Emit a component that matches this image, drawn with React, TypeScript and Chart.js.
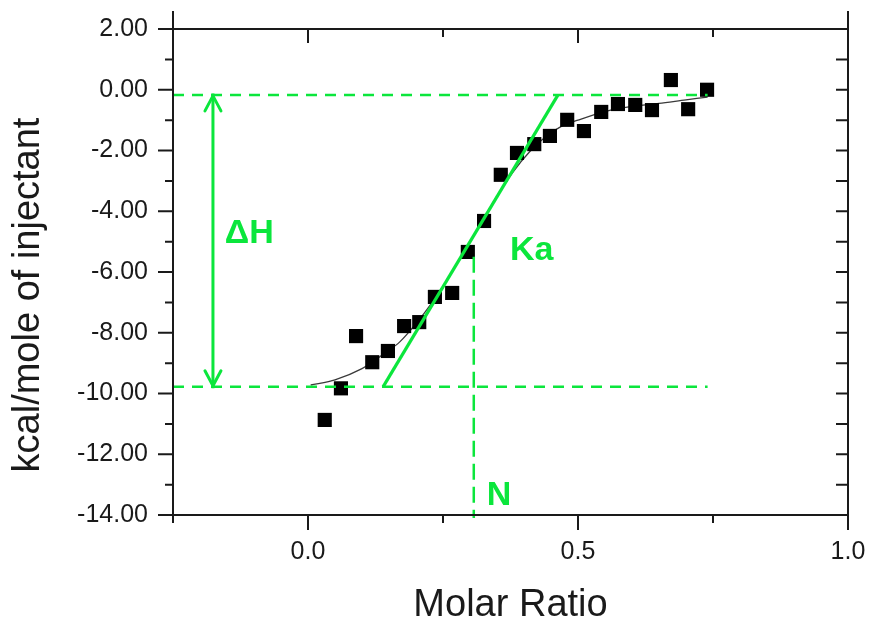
import { useEffect, useRef } from 'react';
import { Chart, registerables } from 'chart.js';
Chart.register(...registerables);

// ---- data ----
const ratioX = [0.031, 0.061, 0.089, 0.119, 0.148, 0.178, 0.206, 0.235, 0.267, 0.296, 0.326, 0.357, 0.387, 0.419, 0.448, 0.480, 0.511, 0.543, 0.574, 0.606, 0.637, 0.672, 0.704, 0.739];
const heatY = [-10.87, -9.83, -8.11, -8.97, -8.60, -7.78, -7.65, -6.82, -6.69, -5.34, -4.32, -2.80, -2.08, -1.79, -1.52, -0.99, -1.36, -0.73, -0.47, -0.50, -0.67, 0.32, -0.64, 0.0];

const fitX = [0.005, 0.05, 0.10, 0.14, 0.17, 0.20, 0.23, 0.26, 0.29, 0.32, 0.35, 0.38, 0.41, 0.44, 0.47, 0.50, 0.55, 0.60, 0.65, 0.70, 0.74];
const fitY = [-9.72, -9.55, -9.18, -8.70, -8.30, -7.70, -7.00, -6.20, -5.30, -4.40, -3.50, -2.70, -2.05, -1.55, -1.20, -1.00, -0.72, -0.55, -0.45, -0.33, -0.24];

const X_MIN = -0.25;
const X_MAX = 1.0;
const Y_MIN = -14;
const Y_MAX = 2;
const X_MAJOR = [0, 0.5, 1.0];
const X_MINOR = [-0.25, 0.25, 0.75];
const Y_MAJOR = [-14, -12, -10, -8, -6, -4, -2, 0, 2];
const Y_MINOR = [-13, -11, -9, -7, -5, -3, -1, 1];

const DH_TOP = -0.17;
const DH_BOTTOM = -9.78;
const GUIDE_END_X = 0.74;
const N_X = 0.307;
const N_TOP_Y = -5.5;
const N_BOTTOM_Y = -14.1;
const KA_X = [0.139, 0.463];
const KA_Y = [-9.78, -0.17];
const ARROW_X = -0.176;

const annotTexts = ['ΔH', 'Ka', 'N'];
const annotX = [-0.154, 0.374, 0.331];
const annotY = [-5.04, -5.6, -13.67];

const X_TITLE = 'Molar Ratio';
const Y_TITLE = 'kcal/mole of injectant';

const GREEN = '#0be63c';
const AXIS = '#1a1a1a';
const FONT = "'Liberation Sans', Arial, sans-serif";

const framePlugin = {
  id: 'frame',
  afterDatasetsDraw(chart: any) {
    const { ctx, chartArea } = chart;
    const xs = chart.scales.x;
    const ys = chart.scales.y;
    const { left, right, top, bottom } = chartArea;
    ctx.save();

    // arrowheads of the ΔH arrow
    const ax = xs.getPixelForValue(ARROW_X);
    const aTop = ys.getPixelForValue(DH_TOP);
    const aBot = ys.getPixelForValue(DH_BOTTOM);
    ctx.strokeStyle = GREEN;
    ctx.lineWidth = 3;
    ctx.lineCap = 'round';
    ctx.lineJoin = 'round';
    ctx.beginPath();
    ctx.moveTo(ax - 8, aTop + 16);
    ctx.lineTo(ax, aTop + 1);
    ctx.lineTo(ax + 8, aTop + 16);
    ctx.moveTo(ax - 8, aBot - 16);
    ctx.lineTo(ax, aBot - 1);
    ctx.lineTo(ax + 8, aBot - 16);
    ctx.stroke();

    // annotation labels
    ctx.fillStyle = GREEN;
    ctx.font = `bold 34px ${FONT}`;
    ctx.textAlign = 'left';
    ctx.textBaseline = 'alphabetic';
    annotTexts.forEach((t, i) => {
      ctx.fillText(t, xs.getPixelForValue(annotX[i]), ys.getPixelForValue(annotY[i]));
    });

    // y axis title (rotated)
    ctx.save();
    ctx.translate(29, 295);
    ctx.rotate(-Math.PI / 2);
    ctx.fillStyle = '#1a1a1a';
    ctx.font = `38px ${FONT}`;
    ctx.textAlign = 'center';
    ctx.textBaseline = 'middle';
    ctx.fillText(Y_TITLE, 0, 0);
    ctx.restore();

    // frame
    ctx.strokeStyle = AXIS;
    ctx.lineWidth = 2;
    ctx.lineCap = 'butt';
    ctx.beginPath();
    ctx.moveTo(left, top - 18);
    ctx.lineTo(left, bottom + 8);
    ctx.moveTo(right, top - 18);
    ctx.lineTo(right, bottom + 15);
    ctx.moveTo(left - 15, top);
    ctx.lineTo(right, top);
    ctx.moveTo(left - 15, bottom);
    ctx.lineTo(right, bottom);
    // y ticks
    Y_MAJOR.forEach((v) => {
      const p = ys.getPixelForValue(v);
      ctx.moveTo(left - 15, p);
      ctx.lineTo(left, p);
      if (v > Y_MIN && v < Y_MAX) {
        ctx.moveTo(right, p);
        ctx.lineTo(right - 12, p);
      }
    });
    Y_MINOR.forEach((v) => {
      const p = ys.getPixelForValue(v);
      ctx.moveTo(left - 8, p);
      ctx.lineTo(left, p);
      ctx.moveTo(right, p);
      ctx.lineTo(right - 12, p);
    });
    // x ticks
    X_MAJOR.forEach((v) => {
      const p = xs.getPixelForValue(v);
      ctx.moveTo(p, bottom);
      ctx.lineTo(p, bottom + 15);
      if (v > X_MIN && v < X_MAX) {
        ctx.moveTo(p, top);
        ctx.lineTo(p, top + 14);
      }
    });
    X_MINOR.forEach((v) => {
      const p = xs.getPixelForValue(v);
      ctx.moveTo(p, bottom);
      ctx.lineTo(p, bottom + 8);
      if (v > X_MIN && v < X_MAX) {
        ctx.moveTo(p, top);
        ctx.lineTo(p, top + 8);
      }
    });
    ctx.stroke();
    ctx.restore();
  },
};

const pts = (xs: number[], ys: number[]) => xs.map((x, i) => ({ x, y: ys[i] }));

const zeroPad = (s: any) => {
  s.paddingTop = 0;
  s.paddingBottom = 0;
  s.paddingLeft = 0;
  s.paddingRight = 0;
};

export default function App() {
  const ref = useRef<HTMLCanvasElement>(null);
  useEffect(() => {
    if (!ref.current) return;
    const guide = (data: any[], dash: number[]) => ({
      data,
      showLine: true,
      borderColor: GREEN,
      borderWidth: 2.5,
      borderDash: dash,
      pointRadius: 0,
      clip: false,
      order: 0,
    });
    const chart = new Chart(ref.current, {
      type: 'scatter',
      data: {
        datasets: [
          {
            data: pts(fitX, fitY),
            showLine: true,
            borderColor: '#3a3a3a',
            borderWidth: 1.3,
            pointRadius: 0,
            tension: 0.3,
            order: 2,
          } as any,
          {
            data: pts(ratioX, heatY),
            pointStyle: 'rect',
            pointRadius: 10,
            backgroundColor: '#000',
            borderColor: '#000',
            borderWidth: 0,
            order: 1,
          },
          guide([{ x: X_MIN, y: DH_TOP }, { x: GUIDE_END_X, y: DH_TOP }], [11, 8]),
          guide([{ x: X_MIN, y: DH_BOTTOM }, { x: GUIDE_END_X, y: DH_BOTTOM }], [11, 8]),
          guide([{ x: N_X, y: N_TOP_Y }, { x: N_X, y: N_BOTTOM_Y }], [16, 7]),
          {
            data: pts(KA_X, KA_Y),
            showLine: true,
            borderColor: GREEN,
            borderWidth: 3.2,
            pointRadius: 0,
            order: 0,
          },
          {
            data: [{ x: ARROW_X, y: DH_TOP + 0.05 }, { x: ARROW_X, y: DH_BOTTOM - 0.05 }],
            showLine: true,
            borderColor: GREEN,
            borderWidth: 3,
            pointRadius: 0,
            order: 0,
          },
        ] as any,
      },
      options: {
        animation: false,
        responsive: false,
        maintainAspectRatio: false,
        events: [],
        layout: { padding: { top: 29, right: 23, left: 0, bottom: 0 } },
        plugins: { legend: { display: false }, tooltip: { enabled: false } },
        scales: {
          x: {
            type: 'linear',
            min: X_MIN,
            max: X_MAX,
            border: { display: false },
            grid: { display: false, drawTicks: false },
            afterBuildTicks: (s: any) => {
              s.ticks = X_MAJOR.map((value) => ({ value }));
            },
            afterFit: (s: any) => {
              s.height = 110;
              zeroPad(s);
            },
            ticks: {
              padding: 22,
              color: '#1a1a1a',
              font: { family: FONT, size: 25 },
              maxRotation: 0,
              autoSkip: false,
              callback: (v: any) => Number(v).toFixed(1),
            },
            title: {
              display: true,
              text: X_TITLE,
              color: '#1a1a1a',
              font: { family: FONT, size: 38, lineHeight: 1 },
              padding: { top: 0, bottom: 0 },
            },
          },
          y: {
            type: 'linear',
            min: Y_MIN,
            max: Y_MAX,
            border: { display: false },
            grid: { display: false, drawTicks: false },
            afterBuildTicks: (s: any) => {
              s.ticks = Y_MAJOR.map((value) => ({ value }));
            },
            afterFit: (s: any) => {
              s.width = 173;
              zeroPad(s);
            },
            ticks: {
              padding: 25,
              color: '#1a1a1a',
              font: { family: FONT, size: 25 },
              autoSkip: false,
              callback: (v: any) => {
                const n = Number(v);
                return (Math.abs(n) < 1e-9 ? 0 : n).toFixed(2);
              },
            },
            title: { display: false },
          },
        },
      },
      plugins: [framePlugin],
    });
    return () => chart.destroy();
  }, []);

  return (
    <div style={{ position: 'fixed', left: 0, top: 0, width: 871, height: 625, background: '#fff' }}>
      <canvas ref={ref} width={871} height={625} style={{ display: 'block', width: 871, height: 625 }} />
    </div>
  );
}
